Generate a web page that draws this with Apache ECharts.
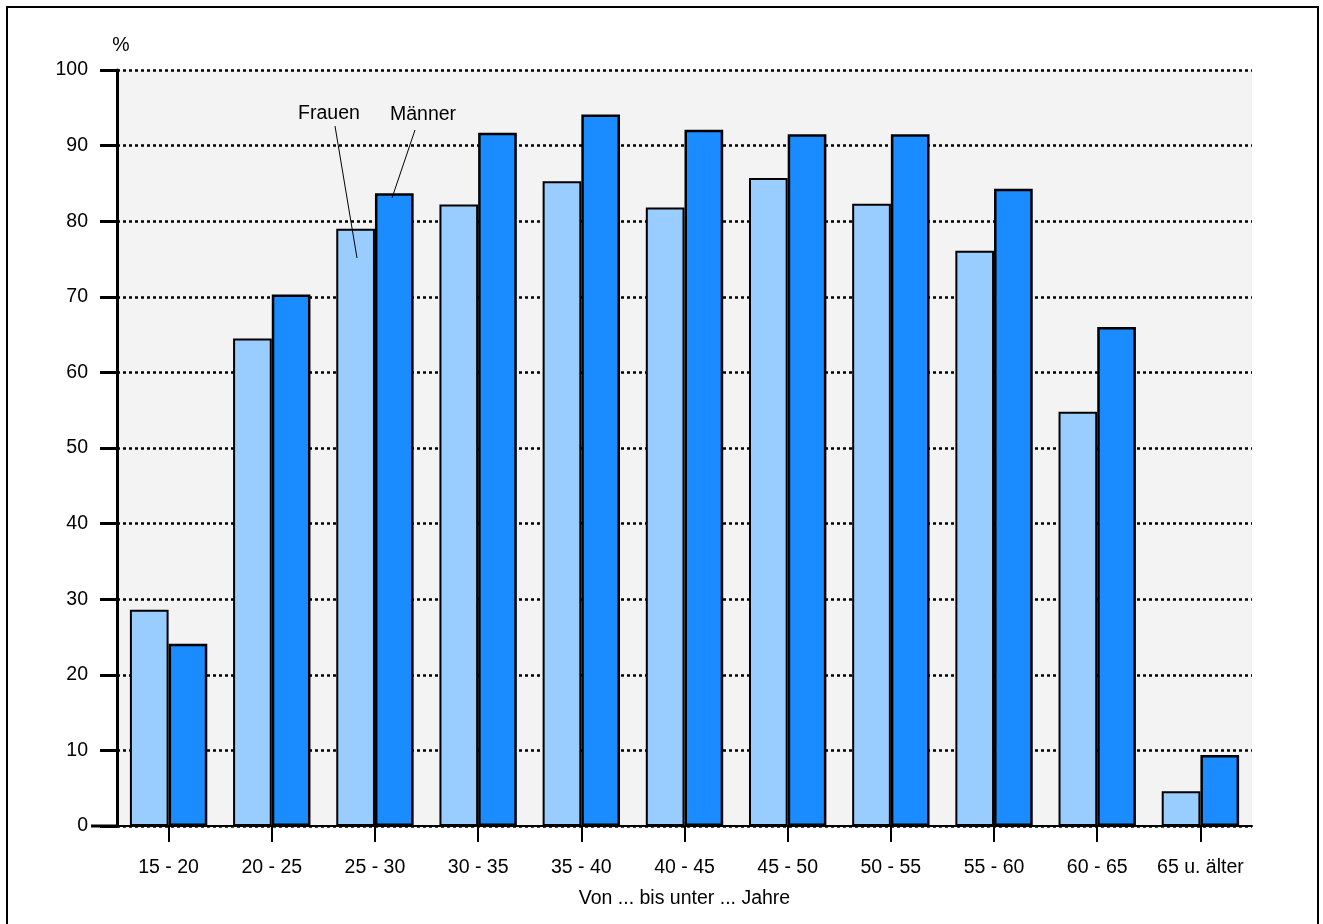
<!DOCTYPE html>
<html>
<head>
<meta charset="utf-8">
<script src="https://cdn.jsdelivr.net/npm/echarts@6/dist/echarts.min.js"></script>
<style>
html,body{margin:0;padding:0;background:#fff;}
#chart{width:1323px;height:924px;}
</style>
</head>
<body>
<div id="chart"></div>
<script>
const categories = ['15 - 20','20 - 25','25 - 30','30 - 35','35 - 40','40 - 45','45 - 50','50 - 55','55 - 60','60 - 65','65 u. älter'];
const frauen = [28.6, 64.5, 79.0, 82.2, 85.3, 81.8, 85.7, 82.3, 76.1, 54.8, 4.6];
const maenner = [24.1, 70.3, 83.7, 91.7, 94.1, 92.1, 91.5, 91.5, 84.3, 66.0, 9.4];
const yTicks = [0, 10, 20, 30, 40, 50, 60, 70, 80, 90, 100];

const FONT = '"Liberation Sans", Arial, sans-serif';
const FS = 19.5;
const chart = echarts.init(document.getElementById('chart'), null, {renderer: 'canvas'});

const option = {
  backgroundColor: '#ffffff',
  animation: false,
  grid: {
    left: 117, right: 71, top: 70, bottom: 98,
    show: true, backgroundColor: '#f3f3f3', borderWidth: 0
  },
  xAxis: {
    type: 'category',
    data: categories,
    boundaryGap: true,
    name: 'Von ... bis unter ... Jahre',
    nameLocation: 'middle',
    nameGap: 63,
    nameTextStyle: {color: '#000', fontSize: FS, fontFamily: FONT},
    axisLine: {show: true, lineStyle: {color: '#000', width: 2}},
    axisTick: {show: true, alignWithLabel: true, interval: 0, length: 16, lineStyle: {color: '#000', width: 2}},
    axisLabel: {color: '#000', fontSize: FS, fontFamily: FONT, margin: 32, interval: 0},
    splitLine: {show: false}
  },
  yAxis: {
    type: 'value',
    min: yTicks[0],
    max: yTicks[yTicks.length - 1],
    interval: 10,
    name: '%',
    nameLocation: 'end',
    nameGap: 14,
    nameTextStyle: {color: '#000', fontSize: FS, fontFamily: FONT, align: 'center', padding: [0, 0, 0, 8]},
    axisLine: {show: true, lineStyle: {color: '#000', width: 3}},
    axisTick: {show: true, length: 17, inside: false, lineStyle: {color: '#000', width: 3}},
    axisLabel: {color: '#000', fontSize: FS, fontFamily: FONT, margin: 29, padding: [6, 0, 0, 0]},
    splitLine: {show: true, lineStyle: {color: '#000', width: 2.5, type: [3, 3]}}
  },
  series: [
    {
      name: 'Frauen',
      type: 'bar',
      data: frauen,
      barGap: '0%',
      barCategoryGap: '25%',
      itemStyle: {color: '#99ccff', borderColor: '#000', borderWidth: 2}
    },
    {
      name: 'Männer',
      type: 'bar',
      data: maenner,
      barGap: '0%',
      barCategoryGap: '25%',
      itemStyle: {color: '#1a8cff', borderColor: '#000', borderWidth: 2.5}
    }
  ],
  graphic: [
    {type: 'rect', shape: {x: 7, y: 7, width: 1311, height: 930}, style: {fill: 'none', stroke: '#000', lineWidth: 2}, silent: true},
    {type: 'line', shape: {x1: 91, y1: 826, x2: 117, y2: 826}, style: {stroke: '#000', lineWidth: 3}, z: 100},
    {type: 'text', x: 329, y: 114, style: {text: 'Frauen', fill: '#000', font: FS + 'px ' + FONT, textAlign: 'center', textVerticalAlign: 'middle'}, z: 100},
    {type: 'text', x: 423, y: 115, style: {text: 'Männer', fill: '#000', font: FS + 'px ' + FONT, textAlign: 'center', textVerticalAlign: 'middle'}, z: 100},
    {type: 'line', shape: {x1: 335, y1: 126, x2: 357, y2: 258}, style: {stroke: '#000', lineWidth: 1}, z: 100},
    {type: 'line', shape: {x1: 415, y1: 130, x2: 392, y2: 198}, style: {stroke: '#000', lineWidth: 1}, z: 100}
  ]
};
chart.setOption(option);
</script>
</body>
</html>
